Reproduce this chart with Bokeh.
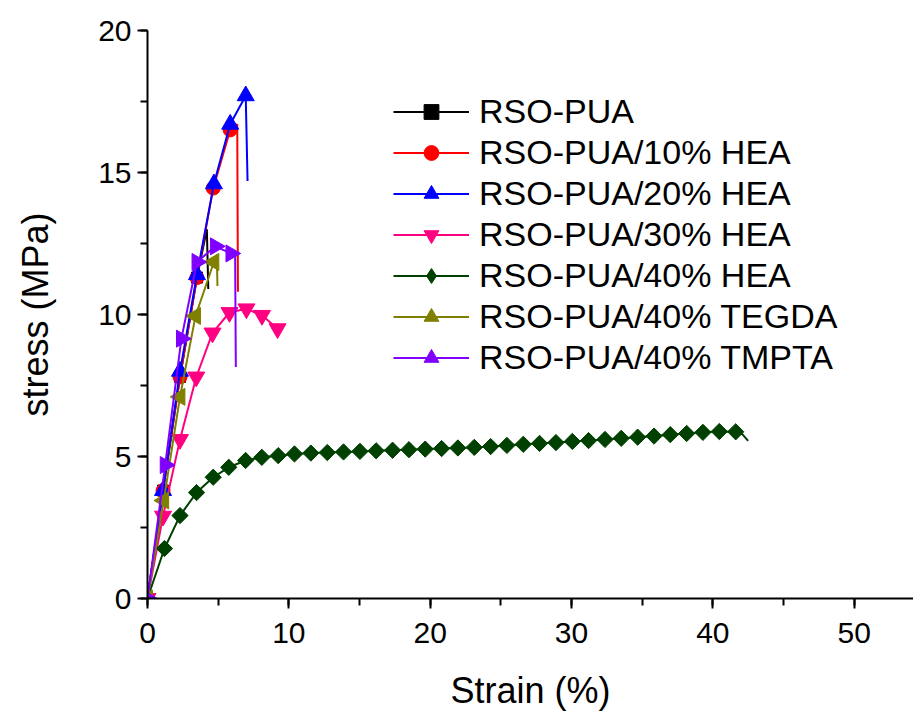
import math
from bokeh.plotting import figure
from bokeh.models import SingleIntervalTicker, Legend, LegendItem
from bokeh.embed import file_html
from bokeh.resources import INLINE

# ---- data (strain %, stress MPa) ----
pua_x = [0, 1.1, 2.3, 3.5, 4.2, 4.3]
pua_y = [0, 3.8, 7.8, 11.3, 13.0, 10.9]
pua_nmark = 4

hea10_x = [0, 1.1, 2.3, 3.5, 4.65, 5.85, 6.35, 6.4]
hea10_y = [0, 3.8, 7.8, 11.3, 14.45, 16.5, 16.7, 10.8]
hea10_nmark = 6

hea20_x = [0, 1.1, 2.3, 3.5, 4.7, 5.85, 6.95, 7.08]
hea20_y = [0, 3.8, 8.0, 11.4, 14.6, 16.7, 17.7, 14.7]
hea20_nmark = 7

hea30_x = [0, 1.1, 2.3, 3.45, 4.6, 5.8, 7.0, 8.1, 9.2]
hea30_y = [0, 2.9, 5.6, 7.8, 9.35, 10.07, 10.2, 9.97, 9.5]
hea30_nmark = 9

hea40_x = [0, 1.2, 2.3, 3.47, 4.65, 5.75, 6.94, 8.09, 9.25, 10.4, 11.56,
           12.72, 13.87, 15.03, 16.18, 17.34, 18.5, 19.65, 20.81, 21.96,
           23.12, 24.28, 25.43, 26.59, 27.74, 28.9, 30.06, 31.21, 32.37,
           33.52, 34.68, 35.84, 36.99, 38.15, 39.3, 40.46, 41.62, 42.1, 42.5]
hea40_y = [0, 1.76, 2.92, 3.73, 4.27, 4.62, 4.86, 4.97, 5.03, 5.09, 5.12,
           5.14, 5.16, 5.18, 5.2, 5.22, 5.24, 5.26, 5.28, 5.3,
           5.32, 5.35, 5.39, 5.43, 5.46, 5.49, 5.53, 5.56, 5.6,
           5.64, 5.68, 5.72, 5.77, 5.81, 5.85, 5.88, 5.87, 5.78, 5.55]
hea40_nmark = 37

tegda_x = [0, 1.15, 2.3, 3.4, 4.7, 4.9, 4.95]
tegda_y = [0, 3.45, 7.1, 9.95, 11.85, 12.1, 11.0]
tegda_nmark = 5

tmpta_x = [0, 1.25, 2.4, 3.5, 4.8, 5.9, 6.2, 6.25]
tmpta_y = [0, 4.7, 9.15, 11.85, 12.4, 12.15, 12.1, 8.15]
tmpta_nmark = 6

labels = ["RSO-PUA", "RSO-PUA/10% HEA", "RSO-PUA/20% HEA", "RSO-PUA/30% HEA",
          "RSO-PUA/40% HEA", "RSO-PUA/40% TEGDA", "RSO-PUA/40% TMPTA"]

x_ticks_interval = 10
y_ticks_interval = 5

FONT = "Liberation Sans"

p = figure(width=913, height=713, x_range=(0, 54.2), y_range=(0, 20),
           output_backend="svg", toolbar_location=None,
           min_border_left=147, min_border_right=0, min_border_top=30,
           min_border_bottom=115)
p.outline_line_color = None
p.xgrid.visible = False
p.ygrid.visible = False
p.background_fill_color = "white"
p.border_fill_color = "white"

# (x, y, n_marked, colour, marker, size, angle, legend marker)
series = [
    (pua_x, pua_y, pua_nmark, "#000000", "square", 11, 0.0, None),
    (hea10_x, hea10_y, hea10_nmark, "#FF0000", "circle", 14, 0.0, None),
    (hea20_x, hea20_y, hea20_nmark, "#0000FF", "triangle", 17, 0.0, None),
    (hea30_x, hea30_y, hea30_nmark, "#FF0080", "inverted_triangle", 17, 0.0, None),
    (hea40_x, hea40_y, hea40_nmark, "#004000", "square", 11.5, math.pi / 4, "diamond"),
    (tegda_x, tegda_y, tegda_nmark, "#808000", "triangle", 17, math.pi / 2, None),
    (tmpta_x, tmpta_y, tmpta_nmark, "#8000FF", "triangle", 17, -math.pi / 2, None),
]

items = []
for (xs, ys, nm, col, mk, sz, ang, lmk), lab in zip(series, labels):
    lr = p.line(xs, ys, line_color=col, line_width=2)
    sr = p.scatter(xs[:nm], ys[:nm], marker=mk, size=sz, angle=ang,
                   fill_color=col, line_color=col, line_width=1)
    if lmk is not None:
        # hidden renderer used only for the legend swatch (unrotated diamond)
        proxy = p.scatter(xs[:1], ys[:1], marker=lmk, size=sz,
                          fill_color=col, line_color=col, visible=False)
        items.append(LegendItem(label=lab, renderers=[lr, proxy]))
    else:
        items.append(LegendItem(label=lab, renderers=[lr, sr]))

for ax, interval in ((p.xaxis, x_ticks_interval), (p.yaxis, y_ticks_interval)):
    ax.ticker = SingleIntervalTicker(interval=interval, num_minor_ticks=2)
    ax.axis_line_width = 2
    ax.axis_line_color = "black"
    ax.major_tick_line_width = 2
    ax.minor_tick_line_width = 2
    ax.major_tick_out = 10
    ax.major_tick_in = 0
    ax.minor_tick_out = 7
    ax.minor_tick_in = 0
    ax.major_label_text_font = FONT
    ax.major_label_text_font_size = "30px"
    ax.major_label_text_color = "black"
    ax.axis_label_text_font = FONT
    ax.axis_label_text_font_size = "36px"
    ax.axis_label_text_font_style = "normal"
    ax.axis_label_text_color = "black"

p.xaxis.axis_label = "Strain (%)"
p.yaxis.axis_label = "stress (MPa)"
p.xaxis.major_label_standoff = 14
p.yaxis.major_label_standoff = 6
p.xaxis.axis_label_standoff = 24
p.yaxis.axis_label_standoff = 39

lg = Legend(items=items, location=(246, 221))
lg.label_text_font = FONT
lg.label_text_font_size = "34px"
lg.label_text_color = "black"
lg.glyph_width = 76
lg.glyph_height = 37
lg.label_height = 30
lg.label_standoff = 10
lg.spacing = 2
lg.padding = 0
lg.margin = 0
lg.border_line_color = None
lg.background_fill_alpha = 0
p.add_layout(lg, "center")

open("out.html", "w").write(file_html(p, INLINE))
